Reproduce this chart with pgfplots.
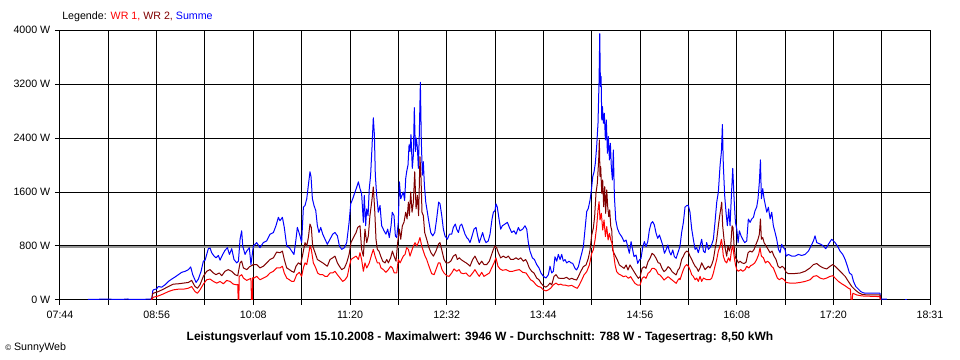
\documentclass[border=0pt]{standalone}
\usepackage{pgfplots}
\pgfplotsset{compat=1.18}
\usepackage{fontspec}
\setmainfont{Liberation Sans}
\definecolor{wrone}{RGB}{255,0,0}
\definecolor{wrtwo}{RGB}{128,0,0}
\definecolor{summe}{RGB}{0,0,255}
\definecolor{avg}{RGB}{150,150,150}
\begin{document}
\begin{tikzpicture}
\path[use as bounding box] (-45pt,-45pt) rectangle (675pt,225pt);
\begin{axis}[
  at={(0pt,0pt)}, anchor=south west,
  scale only axis, width=652.5pt, height=202.5pt,
  xmin=464, xmax=1111, ymin=0, ymax=4000,
  xtick={464,535.89,607.78,679.67,751.56,823.44,895.33,967.22,1039.11,1111},
  xticklabels={07:44,08:56,10:08,11:20,12:32,13:44,14:56,16:08,17:20,18:31},
  minor xtick={499.94,571.83,643.72,715.61,787.5,859.39,931.28,1003.17,1075.06},
  ytick={0,800,1600,2400,3200,4000},
  yticklabels={0 W,800 W,1600 W,2400 W,3200 W,4000 W},
  grid=both,
  major grid style={black, line width=0.75pt},
  minor grid style={black, line width=0.75pt},
  axis line style={black, line width=0.75pt},
  tick align=outside, major tick length=3.75pt, minor tick length=3.75pt,
  tick style={black, line width=0.75pt},
  xtick pos=bottom, ytick pos=left,
  ticklabel style={font=\fontsize{8}{9.6}\selectfont},
  xticklabel style={yshift=-1pt},
  every axis plot/.append style={line width=0.75pt, no markers, line join=round},
]
\addplot[avg, line width=0.9pt] coordinates {(464,786) (1111,786)};
% Summe
\addplot[summe] coordinates {
(484.8,10)(500,12)(510,8)(514,15)(516,8)(531,12)(532.4,20)(532.9,130)(533.4,150)(535.9,165)(537.1,200)(539.6,190)(542.1,225)(544.6,275)(547.1,310)(549.5,340)(552.0,375)(554.5,410)(557.0,425)(559.5,450)(561.2,490)(562.7,375)(565.2,260)(566.9,310)(568.9,425)(570.6,575)(571.9,590)(574.3,760)(575.6,770)(576.8,700)(578.6,650)(580.0,625)(581.8,660)(583.0,590)(585.0,675)(586.7,735)(588.5,775)(590.0,675)(591.7,760)(593.4,600)(595.4,550)(596.7,575)(597.9,900)(599.1,1025)(599.9,800)(601.6,675)(602.9,725)(604.8,775)(606.0,525)(607.8,800)(610.3,850)(612.7,775)(615.2,850)(617.7,875)(620.2,975)(622.7,1000)(624.6,1100)(626.4,1225)(627.6,1175)(629.4,1225)(630.8,1075)(632.6,800)(634.6,775)(636.3,725)(638.0,675)(639.5,900)(640.5,1075)(642.5,950)(643.7,850)(645.0,1375)(646.2,1400)(647.5,1500)(648.7,1700)(649.9,1900)(650.7,1825)(651.7,1500)(652.9,1400)(654.2,1325)(655.4,1100)(656.6,1000)(657.9,1075)(659.4,975)(661.1,900)(662.8,825)(664.8,900)(666.8,975)(668.5,1000)(670.3,950)(671.8,800)(673.5,750)(675.5,775)(677.2,850)(679.0,1150)(680.2,1425)(681.7,1500)(683.4,1600)(684.7,1675)(685.9,1750)(687.1,1650)(688.3,1575)(689.6,1150)(690.3,1550)(691.3,1100)(692.1,1350)(693.1,1250)(694.0,1650)(695.0,1850)(696.0,2250)(697.0,2700)(697.8,2450)(698.5,1850)(699.5,1550)(700.7,1300)(702.0,1400)(703.2,1100)(705.0,1025)(706.4,975)(707.7,1050)(708.9,925)(710.2,1100)(711.1,1300)(712.4,1250)(713.4,950)(714.4,925)(715.6,1150)(716.4,1750)(717.4,1500)(718.3,1550)(719.3,1600)(720.3,1475)(721.1,1800)(721.8,1900)(722.8,2000)(723.6,2300)(724.3,2200)(725.0,2450)(726.0,1950)(726.8,2150)(727.5,2850)(728.3,2200)(729.0,2400)(729.8,2250)(730.5,1950)(731.2,2450)(732.0,3225)(732.7,2350)(733.5,1850)(734.2,2050)(735.0,1700)(736.0,1450)(737.2,1300)(738.4,1150)(739.7,1000)(741.2,950)(742.7,1000)(744.1,1200)(745.6,1450)(746.6,1425)(747.9,1250)(749.1,1050)(750.3,950)(752.1,900)(753.6,975)(755.3,975)(756.5,1075)(758.0,1125)(759.0,1050)(760.3,1000)(761.5,1100)(762.7,1125)(764.0,1050)(765.2,975)(766.5,925)(767.7,900)(768.9,850)(770.1,925)(771.9,1050)(773.4,1075)(774.6,950)(775.8,850)(777.1,925)(778.3,1000)(779.6,900)(780.8,850)(782.5,875)(783.8,975)(785.3,1200)(786.3,1300)(787.5,1325)(788.2,1425)(789.2,1375)(790.5,1200)(791.7,1050)(793.0,1100)(794.9,1125)(796.7,1150)(798.2,1075)(799.9,1000)(801.6,1025)(803.1,975)(804.9,1075)(806.1,1025)(808.1,1050)(809.8,1100)(811.1,1050)(812.3,850)(813.5,725)(815.3,625)(816.8,600)(818.5,525)(820.2,475)(821.7,400)(823.5,350)(825.4,325)(827.2,375)(828.4,500)(829.7,400)(830.9,425)(832.1,640)(833.4,575)(834.6,675)(835.9,600)(837.1,675)(838.3,575)(839.6,600)(840.8,550)(842.6,575)(844.0,550)(845.3,543)(847.0,469)(848.2,445)(849.5,494)(850.7,593)(852.0,692)(853.2,790)(854.4,1037)(855.7,1309)(856.9,1358)(858.2,1482)(859.2,1630)(860.2,1828)(861.2,1902)(862.1,2025)(863.1,2272)(864.1,2618)(864.9,3260)(865.4,3946)(865.9,3162)(866.4,3310)(866.9,2668)(867.4,2865)(868.1,2618)(868.8,2766)(869.6,2371)(870.3,2668)(871.1,2174)(871.8,2421)(872.6,2075)(873.3,2322)(874.0,1976)(874.8,1778)(875.5,2223)(876.3,1531)(877.3,1186)(878.5,1062)(880.0,988)(881.7,939)(883.5,865)(885.0,889)(886.2,790)(887.4,692)(888.7,865)(889.9,741)(890.9,642)(892.4,667)(893.6,543)(894.9,593)(896.1,618)(897.4,790)(898.6,865)(899.8,790)(901.1,865)(902.3,1037)(903.6,1136)(904.8,1161)(906.0,1111)(907.3,988)(908.5,914)(909.8,963)(911.0,889)(912.2,815)(913.5,692)(914.7,741)(916.0,815)(917.2,716)(918.4,667)(919.7,741)(920.9,642)(922.2,618)(923.4,692)(924.6,766)(925.1,800)(926.3,1000)(927.6,1150)(928.8,1375)(930.1,1400)(931.3,1400)(932.5,1300)(933.8,1050)(935.0,900)(936.3,750)(937.5,775)(938.7,700)(940.0,800)(941.2,900)(942.5,725)(943.7,700)(944.9,850)(946.2,750)(947.4,775)(948.7,825)(949.9,900)(951.1,1150)(952.4,1450)(953.6,1600)(954.9,2000)(955.9,2200)(956.6,2600)(957.3,2000)(958.3,1550)(959.3,1300)(960.3,1100)(961.3,1350)(962.3,1100)(963.3,1550)(964.3,1950)(965.3,1500)(966.3,1150)(967.3,1050)(968.3,850)(969.2,1025)(970.5,950)(971.7,900)(973.2,850)(974.7,875)(975.9,1200)(977.2,1150)(978.4,1200)(979.7,1225)(980.9,1325)(982.1,1375)(983.1,1500)(984.1,1750)(984.9,2075)(985.6,1500)(986.6,1650)(987.6,1500)(988.6,1400)(989.6,1300)(990.8,1375)(992.1,1200)(993.3,1300)(994.5,1100)(995.8,1000)(997.0,900)(998.3,750)(999.5,700)(1000.7,825)(1002.0,775)(1003.2,750)(1004.0,650)(1005.7,675)(1008.2,650)(1010.7,650)(1013.1,675)(1015.6,660)(1018.1,675)(1020.6,725)(1023.1,825)(1024.3,875)(1025.5,950)(1026.8,850)(1028.0,840)(1029.8,825)(1031.7,800)(1033.5,760)(1034.7,800)(1036.2,850)(1037.9,900)(1039.2,875)(1040.4,850)(1042.2,800)(1044.1,725)(1046.1,675)(1047.9,600)(1049.6,500)(1051.1,400)(1052.8,375)(1054.1,275)(1055.8,200)(1057.8,160)(1059.5,125)(1061.0,110)(1062.7,100)(1073.8,100)(1074.3,12)(1079.0,12)
};
\addplot[summe] coordinates {(1092.2,10)(1093.6,10)};
% WR 2
\addplot[wrtwo] coordinates {
(532.0,0)(532.9,90)(533.4,100)(537.1,125)(540.9,160)(544.6,200)(548.3,235)(552.0,240)(555.7,250)(559.5,260)(561.9,290)(564.4,200)(566.2,175)(568.1,225)(570.6,350)(573.1,425)(575.6,450)(578.1,400)(580.0,375)(582.5,400)(584.3,360)(586.7,425)(589.2,450)(591.7,425)(594.2,375)(596.2,360)(597.9,550)(599.1,575)(600.4,475)(602.9,450)(604.8,490)(607.8,525)(610.3,525)(612.7,475)(615.2,500)(617.7,550)(620.2,600)(622.7,625)(625.1,710)(627.6,700)(629.4,725)(630.8,600)(632.6,475)(634.6,450)(636.3,425)(638.0,410)(639.5,500)(641.3,550)(643.0,525)(644.5,675)(646.2,850)(647.5,800)(648.7,925)(649.9,1125)(650.9,1075)(651.9,800)(653.7,700)(655.4,600)(657.4,575)(659.4,550)(661.1,525)(662.8,500)(664.8,600)(666.8,625)(668.5,650)(670.3,550)(671.8,500)(673.5,450)(675.5,475)(677.2,550)(679.0,675)(680.4,850)(682.2,925)(684.2,1000)(685.4,1075)(687.1,1100)(688.3,750)(689.6,650)(690.8,1050)(692.1,850)(693.3,950)(694.5,1250)(695.8,1450)(697.0,1675)(698.0,1350)(699.0,900)(700.0,750)(701.2,725)(702.5,650)(704.0,575)(705.7,550)(707.0,600)(708.2,550)(709.9,625)(711.2,725)(712.4,650)(713.9,575)(715.1,850)(716.4,1050)(717.4,900)(718.6,1100)(719.8,1150)(721.1,1300)(722.1,1200)(723.1,1450)(723.8,1250)(724.8,1600)(725.8,1300)(726.8,1450)(727.8,1900)(728.8,1350)(729.8,1550)(730.7,1250)(731.7,2125)(732.5,1800)(733.2,1300)(734.2,1250)(735.2,1000)(736.7,900)(738.4,775)(739.9,700)(741.7,650)(743.6,725)(745.4,825)(746.6,850)(748.1,725)(749.6,600)(751.1,550)(752.8,550)(754.6,575)(756.5,650)(758.3,675)(759.5,600)(761.0,625)(762.2,600)(764.0,575)(766.0,550)(767.7,525)(768.9,500)(770.9,600)(772.6,650)(774.4,575)(775.8,525)(777.6,575)(779.3,525)(781.3,525)(783.3,575)(785.0,675)(786.3,750)(787.5,800)(788.7,775)(790.0,700)(791.7,625)(793.7,650)(795.7,625)(797.4,650)(799.2,600)(801.1,600)(803.1,625)(804.9,600)(806.6,625)(808.6,575)(810.3,600)(811.6,550)(813.0,475)(814.8,425)(816.5,400)(818.5,325)(820.2,300)(821.7,250)(823.5,210)(825.2,190)(826.7,210)(828.4,250)(829.7,225)(831.4,350)(832.9,375)(834.6,325)(836.4,320)(838.8,321)(840.8,336)(842.8,306)(844.5,321)(846.3,306)(848.2,296)(849.5,346)(851.2,420)(853.2,494)(855.2,519)(856.9,618)(858.2,741)(859.4,963)(860.6,1062)(861.6,1235)(862.6,1581)(863.6,1729)(864.6,2075)(865.1,2371)(865.6,1828)(866.1,1976)(866.9,1581)(867.6,1778)(868.3,1383)(869.1,1680)(869.8,1284)(870.6,1630)(871.3,1383)(872.1,1235)(872.8,1334)(873.6,1087)(874.3,1037)(875.0,741)(876.0,692)(877.3,642)(878.5,593)(880.0,519)(881.7,494)(883.5,469)(885.0,519)(886.4,445)(887.9,519)(889.4,469)(890.9,420)(892.4,371)(894.1,321)(895.4,346)(896.9,469)(898.4,494)(899.8,469)(901.3,568)(902.8,618)(904.3,692)(905.8,667)(907.3,618)(908.8,553)(910.2,543)(911.7,469)(913.2,420)(914.7,445)(916.2,494)(917.7,469)(919.2,420)(920.7,395)(922.2,371)(923.6,445)(924.6,469)(925.1,500)(926.3,600)(927.6,650)(928.8,700)(930.1,725)(931.3,710)(932.5,650)(933.8,600)(935.0,550)(936.3,500)(937.5,475)(938.7,425)(940.0,475)(941.2,550)(942.5,500)(943.7,450)(944.9,475)(946.2,500)(947.4,475)(948.7,525)(949.9,600)(951.1,750)(952.4,900)(953.6,1100)(954.6,1250)(955.4,1350)(956.1,1450)(956.8,1100)(957.8,900)(958.8,750)(959.8,650)(960.8,800)(961.8,725)(962.8,800)(963.8,1100)(964.5,1075)(965.3,800)(966.3,625)(967.3,600)(968.5,550)(969.7,575)(971.2,550)(972.7,540)(974.2,560)(975.7,700)(977.2,725)(978.7,710)(980.2,750)(981.6,825)(983.1,900)(984.1,975)(984.9,1200)(985.6,900)(986.6,925)(987.6,850)(989.1,800)(990.6,750)(992.1,700)(993.5,725)(995.0,650)(996.5,600)(998.0,500)(999.5,475)(1001.0,500)(1002.5,475)(1004.0,410)(1005.7,390)(1009.4,390)(1014.4,400)(1018.1,425)(1021.8,475)(1024.3,525)(1026.8,540)(1029.3,500)(1031.7,475)(1034.2,460)(1036.7,500)(1038.7,525)(1040.4,500)(1042.9,450)(1045.4,400)(1047.9,350)(1050.3,275)(1052.8,200)(1055.3,150)(1057.8,110)(1060.3,85)(1064.0,75)(1073.8,75)(1074.1,0)
};
% WR 1
\addplot[wrone] coordinates {
(532.0,0)(533.4,40)(537.1,60)(540.9,90)(544.6,125)(548.3,150)(552.0,160)(555.7,160)(559.5,175)(561.9,200)(564.4,125)(566.2,100)(568.1,150)(570.6,235)(573.1,300)(575.6,310)(578.1,275)(580.5,250)(583.0,275)(585.5,240)(588.0,290)(590.5,275)(592.9,235)(595.4,225)(596.2,230)(596.5,0)(597.0,0)(597.3,350)(599.1,375)(600.4,325)(602.9,290)(604.8,310)(606.0,320)(606.4,0)(607.0,0)(607.3,330)(608.3,325)(610.3,350)(612.7,300)(615.2,325)(617.7,350)(620.2,400)(622.7,425)(625.1,475)(627.6,475)(629.4,500)(630.8,400)(632.6,325)(634.6,300)(636.3,275)(638.0,275)(640.0,375)(642.0,410)(643.7,350)(645.0,475)(646.2,550)(647.5,525)(648.7,650)(649.9,800)(650.9,750)(652.4,550)(654.2,475)(655.6,400)(657.4,375)(659.4,375)(661.1,350)(662.8,350)(664.8,400)(666.8,400)(668.5,425)(670.3,375)(672.3,325)(674.2,275)(676.0,300)(677.7,350)(679.2,500)(680.4,600)(682.2,625)(684.2,650)(685.9,600)(687.1,700)(688.3,600)(689.6,425)(690.8,550)(692.1,475)(694.0,550)(695.8,675)(697.0,750)(698.3,650)(700.0,550)(701.5,550)(702.7,475)(704.5,450)(706.4,410)(708.2,450)(709.9,500)(711.2,475)(712.6,400)(714.4,400)(715.6,600)(716.9,550)(718.1,600)(719.3,650)(720.6,675)(721.8,775)(723.1,750)(724.3,650)(725.5,725)(726.8,800)(728.0,850)(729.3,800)(730.5,850)(731.7,925)(733.0,800)(734.2,725)(735.5,650)(736.7,600)(738.4,500)(740.4,390)(742.2,375)(743.6,450)(745.4,550)(746.6,550)(748.1,450)(749.6,400)(751.6,360)(753.3,350)(755.3,400)(757.0,460)(759.0,425)(760.8,450)(762.2,400)(764.0,390)(766.0,400)(767.7,360)(768.9,350)(770.9,400)(772.6,450)(774.4,390)(775.8,350)(777.6,410)(779.3,350)(781.3,375)(783.3,400)(785.0,475)(786.8,550)(788.2,625)(789.7,500)(791.2,460)(793.2,440)(795.7,450)(798.2,425)(800.6,425)(803.1,440)(805.6,450)(808.1,410)(810.6,400)(812.3,350)(814.0,300)(816.0,275)(818.0,225)(819.7,200)(821.5,190)(823.5,150)(825.4,135)(827.2,150)(828.9,175)(830.9,225)(832.9,250)(834.6,225)(836.4,235)(837.8,222)(839.6,222)(842.0,207)(844.5,217)(847.0,188)(848.7,173)(850.2,222)(852.0,296)(853.7,371)(855.7,420)(857.7,519)(859.4,692)(860.6,741)(861.9,889)(863.1,1087)(864.1,1334)(864.9,1457)(865.6,1186)(866.6,1284)(867.6,1037)(868.6,1186)(869.6,939)(870.6,1087)(871.6,889)(872.6,988)(873.6,889)(874.5,840)(875.5,716)(876.8,519)(878.0,420)(879.5,385)(881.0,371)(883.0,346)(884.9,356)(886.7,321)(888.4,346)(889.9,296)(891.6,247)(893.4,222)(895.4,222)(896.9,321)(898.4,346)(899.8,321)(901.3,395)(902.8,420)(904.3,469)(905.8,469)(907.3,445)(908.8,385)(910.2,371)(911.7,336)(913.2,296)(914.7,321)(916.2,346)(917.7,321)(919.2,296)(920.7,272)(922.2,247)(923.6,296)(924.6,321)(925.1,300)(926.3,375)(927.6,450)(928.8,500)(930.1,525)(931.3,500)(932.5,450)(933.8,375)(935.0,350)(936.3,300)(937.5,325)(938.7,275)(940.0,350)(941.2,275)(942.5,325)(944.9,300)(947.4,300)(948.7,325)(949.9,400)(951.1,500)(952.4,600)(953.6,725)(954.9,800)(955.9,900)(956.6,800)(957.3,650)(958.6,575)(959.8,550)(961.1,625)(962.3,575)(963.5,750)(964.3,800)(965.3,650)(966.3,525)(967.3,450)(968.5,425)(970.2,450)(971.7,425)(973.5,450)(974.7,500)(976.2,475)(977.7,510)(979.2,525)(980.7,550)(982.1,600)(983.6,675)(984.6,775)(985.6,650)(987.1,625)(988.6,550)(990.1,575)(991.6,550)(993.1,500)(994.5,475)(996.0,400)(997.5,325)(999.0,300)(1000.7,325)(1002.5,300)(1004.0,260)(1006.9,250)(1010.7,250)(1014.4,260)(1018.1,275)(1021.8,300)(1024.3,350)(1026.8,360)(1029.3,325)(1031.7,310)(1034.2,325)(1036.7,350)(1038.7,360)(1040.4,325)(1042.9,275)(1045.4,240)(1047.9,210)(1050.3,175)(1051.8,160)(1052.3,0)(1053.1,0)(1053.6,100)(1056.5,75)(1060.3,60)(1073.8,50)(1074.1,0)
};
\end{axis}
\node[anchor=west, inner sep=0pt, font=\fontsize{8}{9.6}\selectfont] at (1.5pt,212.25pt)
  {Legende: \textcolor{wrone}{WR 1,} \textcolor{wrtwo}{WR 2,} \textcolor{summe}{Summe}};
\node[inner sep=0pt, font=\fontsize{9}{10.8}\selectfont\bfseries] at (315pt,-27.75pt)
  {Leistungsverlauf vom 15.10.2008 - Maximalwert: 3946 W - Durchschnitt: 788 W - Tagesertrag: 8,50 kWh};
\node[anchor=west, inner sep=0pt, font=\fontsize{8}{9.6}\selectfont] at (-41.25pt,-36pt)
  {{\fontsize{6}{7}\selectfont\textcopyright} SunnyWeb};
\end{tikzpicture}
\end{document}
